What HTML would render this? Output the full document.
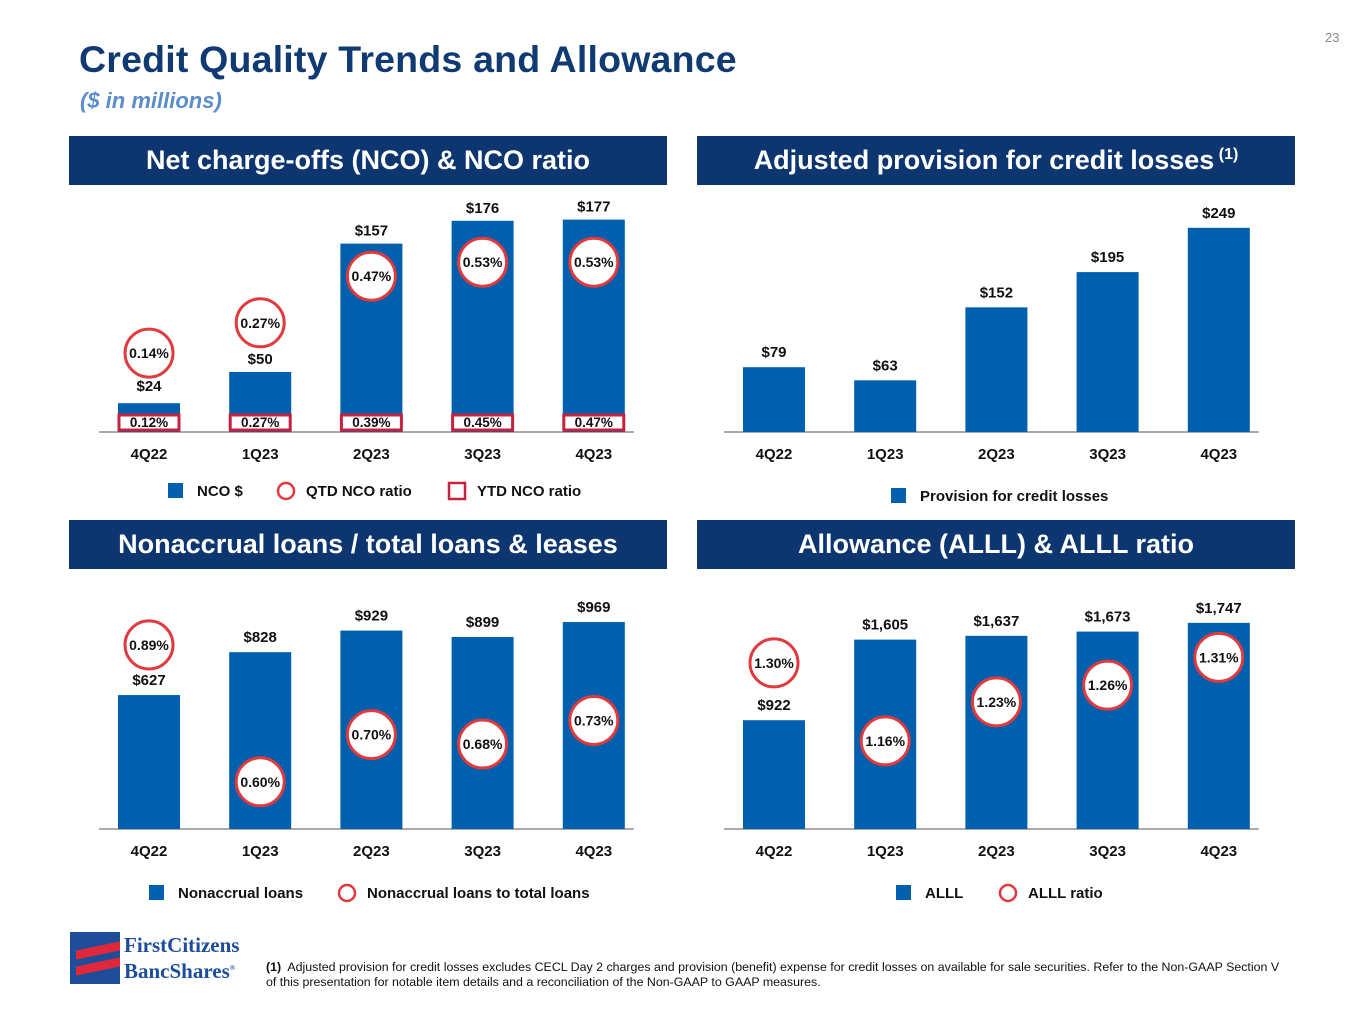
<!DOCTYPE html>
<html><head><meta charset="utf-8"><style>
body{margin:0;width:1365px;height:1024px;background:#fff;font-family:"Liberation Sans",Arial,sans-serif;position:relative;overflow:hidden}
.t{position:absolute}
</style></head><body>
<div class="t" style="left:1325px;top:30px;font-size:13px;color:#888">23</div>
<div class="t" style="left:79px;top:38px;font-size:37.5px;font-weight:bold;color:#0f3a72;letter-spacing:0.2px">Credit Quality Trends and Allowance</div>
<div class="t" style="left:80px;top:88px;font-size:22px;font-weight:bold;font-style:italic;color:#5b8ccc">($ in millions)</div>
<svg id="s" width="1365" height="1024" style="position:absolute;left:0;top:0"></svg>
<div class="t" style="left:266px;top:960px;width:1022px;font-size:12.4px;line-height:15px;color:#111"><b>(1)</b>&nbsp; Adjusted provision for credit losses excludes CECL Day 2 charges and provision (benefit) expense for credit losses on available for sale securities. Refer to the Non-GAAP Section V of this presentation for notable item details and a reconciliation of the Non-GAAP to GAAP measures.</div>
<div class="t" style="left:70px;top:932px;width:50px;height:52px;background:#1e4d9a;overflow:hidden">
<div style="position:absolute;left:6px;top:14px;width:44px;height:9px;background:#e0283a;transform:skewY(-12deg)"></div>
<div style="position:absolute;left:6px;top:30px;width:44px;height:9px;background:#e0283a;transform:skewY(-12deg)"></div>
</div>
<div class="t" style="left:124px;top:934px;font-family:'Liberation Serif',serif;font-size:21px;line-height:23px;color:#1e4d9a;font-weight:bold">FirstCitizens<br>BancShares<sup style="font-size:7px">®</sup></div>
<script>
const cats=["4Q22","1Q23","2Q23","3Q23","4Q23"];
const nco=[24,50,157,176,177];
const ncoQtd=[0.14,0.27,0.47,0.53,0.53];
const ncoYtd=[0.12,0.27,0.39,0.45,0.47];
const prov=[79,63,152,195,249];
const nonacc=[627,828,929,899,969];
const nonaccRatio=[0.89,0.60,0.70,0.68,0.73];
const alll=[922,1605,1637,1673,1747];
const alllRatio=[1.30,1.16,1.23,1.26,1.31];
const S=document.getElementById('s');const NS="http://www.w3.org/2000/svg";
function el(t,a,txt){const e=document.createElementNS(NS,t);for(const k in a)e.setAttribute(k,a[k]);if(txt!==undefined)e.textContent=txt;S.appendChild(e);return e;}
function fmt(v){return "$"+v.toLocaleString("en-US");}
function header(x,y,txt,sup,name){
 const r=el('rect',{x:x,y:y,width:598,height:49,fill:'#0d3570'});
 
 const t=el('text',{x:x+299,y:y+33,'text-anchor':'middle','font-size':27,'font-weight':'bold',fill:'#fff'},txt);
 if(sup){const ts=document.createElementNS(NS,'tspan');ts.setAttribute('font-size',16);ts.setAttribute('dy',-10);ts.textContent=" (1)";t.appendChild(ts);}
 
}
function chart(o){
 const xs=i=>o.x0+i*111.2;
 const ys=v=>o.base-v*o.k;
 el('line',{x1:o.x0-50,x2:o.x0+4*111.2+40,y1:o.base,y2:o.base,stroke:'#aaa','stroke-width':2});
 o.vals.forEach((v,i)=>{
  const b=el('rect',{x:xs(i)-31,y:ys(v),width:62,height:v*o.k,fill:'#0060ae'});
  
  const l=el('text',{x:xs(i),y:o.labY?o.labY(i,ys(v)):ys(v)-10,'text-anchor':'middle','font-size':15,'font-weight':'bold',fill:'#111'},fmt(v));
  
  const c=el('text',{x:xs(i),y:o.base+27,'text-anchor':'middle','font-size':15,'font-weight':'bold',fill:'#111'},cats[i]);
  
  if(o.ratio){
   const cy=o.ry(o.ratio[i]);const cx=xs(i);
   const ci=el('circle',{cx:cx,cy:cy,r:24,fill:'#fff',stroke:'#e03a3e','stroke-width':3});
   
   const rt=el('text',{x:cx,y:cy+5,'text-anchor':'middle','font-size':14,'font-weight':'bold',fill:'#111'},o.ratio[i].toFixed(2)+"%");
   
  }
  if(o.box){
   const bx=el('rect',{x:xs(i)-30,y:o.base-17,width:60,height:15,fill:'#fff',stroke:'#c8203f','stroke-width':3});
   
   const bt=el('text',{x:xs(i),y:o.base-5,'text-anchor':'middle','font-size':13.5,'font-weight':'bold',fill:'#111'},o.box[i].toFixed(2)+"%");
   
  }
 });
}
function legend(items,y,name){
 items.forEach(it=>{
  let m;
  if(it.t=='sq')m=el('rect',{x:it.x,y:y-7,width:15,height:15,fill:'#0060ae'});
  else if(it.t=='c')m=el('circle',{cx:it.x+9,cy:y+1,r:8,fill:'none',stroke:'#e03a3e','stroke-width':2.5});
  else m=el('rect',{x:it.x+1,y:y-7,width:16,height:16,fill:'none',stroke:'#c8203f','stroke-width':2.5});
  
  const t=el('text',{x:it.x+29,y:y+6,'font-size':15,'font-weight':'bold',fill:'#111'},it.l);
  
 });
}
header(69,136,"Net charge-offs (NCO) & NCO ratio",false,"nco");
header(697,136,"Adjusted provision for credit losses",true,"provision");
header(69,520,"Nonaccrual loans / total loans & leases",false,"nonaccrual");
header(697,520,"Allowance (ALLL) & ALLL ratio",false,"allowance");
chart({name:'nco',x0:149,base:432,k:1.2,vals:nco,ratio:ncoQtd,ry:r=>385.7-233*r,box:ncoYtd,
 labY:(i,t)=>i==0?t-12:t-8});
chart({name:'provision',x0:774,base:432,k:0.82,vals:prov});
chart({name:'nonaccrual',x0:149,base:829,k:0.2136,vals:nonacc,ratio:nonaccRatio,ry:r=>1065-472*r});
chart({name:'allowance',x0:774,base:829,k:0.118,vals:alll,ratio:alllRatio,ry:r=>1387-557*r});
legend([{t:'sq',x:168,l:'NCO $'},{t:'c',x:277,l:'QTD NCO ratio'},{t:'b',x:448,l:'YTD NCO ratio'}],490,'nco');
legend([{t:'sq',x:891,l:'Provision for credit losses'}],495,'provision');
legend([{t:'sq',x:149,l:'Nonaccrual loans'},{t:'c',x:338,l:'Nonaccrual loans to total loans'}],892,'nonaccrual');
legend([{t:'sq',x:896,l:'ALLL'},{t:'c',x:999,l:'ALLL ratio'}],892,'allowance');
</script>
</body></html>
